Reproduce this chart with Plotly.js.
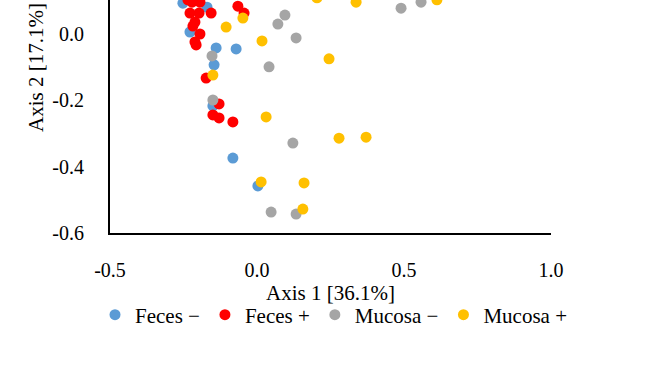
<!DOCTYPE html>
<html>
<head>
<meta charset="utf-8">
<script src="https://cdn.plot.ly/plotly-3.0.1.min.js"></script>
<style>html,body{margin:0;padding:0;background:#fff;}#chart{width:650px;height:366px;}</style>
</head>
<body>
<div id="chart"></div>
<script>
// Data (Axis 1, Axis 2 coordinates)
const fecesMinusX = [-0.252, -0.170, -0.228, -0.139, -0.071, -0.146, -0.150, -0.082, 0.003];
const fecesMinusY = [0.093, 0.081, 0.006, -0.042, -0.045, -0.093, -0.217, -0.374, -0.458];

const fecesPlusX = [-0.235, -0.221, -0.194, -0.228, -0.197, -0.156, -0.065, -0.044, -0.211, -0.218, -0.194, -0.211, -0.207, -0.173, -0.129, -0.150, -0.129, -0.082];
const fecesPlusY = [0.103, 0.096, 0.096, 0.063, 0.063, 0.063, 0.084, 0.063, 0.036, 0.024, 0.000, -0.024, -0.033, -0.133, -0.211, -0.244, -0.253, -0.265];

const mucosaMinusX = [-0.153, -0.150, 0.071, 0.095, 0.133, 0.041, 0.122, 0.048, 0.133, 0.490, 0.558];
const mucosaMinusY = [-0.066, -0.199, 0.030, 0.057, -0.012, -0.099, -0.329, -0.537, -0.543, 0.078, 0.096];

const mucosaPlusX = [-0.048, -0.105, 0.017, -0.150, 0.245, 0.031, 0.279, 0.371, 0.014, 0.160, 0.156, 0.337, 0.612, 0.204];
const mucosaPlusY = [0.048, 0.021, -0.021, -0.124, -0.075, -0.250, -0.314, -0.311, -0.446, -0.449, -0.528, 0.096, 0.103, 0.109];

const seriesNames = ["Feces \u2212", "Feces +", "Mucosa \u2212", "Mucosa +"];
const seriesColors = ["#5B9BD5", "#FF0000", "#A5A5A5", "#FFC000"];

const xTicks = [-0.5, 0.0, 0.5, 1.0];
const yTicks = [-0.6, -0.4, -0.2, 0.0];
const xTitle = "Axis 1 [36.1%]";
const yTitle = "Axis 2 [17.1%]";

const xs = [fecesMinusX, fecesPlusX, mucosaMinusX, mucosaPlusX];
const ys = [fecesMinusY, fecesPlusY, mucosaMinusY, mucosaPlusY];

const FONT = "Liberation Serif";

const traces = seriesNames.map((name, i) => ({
  type: "scatter",
  mode: "markers",
  name: name,
  x: xs[i],
  y: ys[i],
  marker: {color: seriesColors[i], size: 11, line: {width: 0}},
  cliponaxis: true
}));

const layout = {
  width: 650,
  height: 366,
  margin: {l: 110, r: 99, t: 0, b: 133, pad: 0},
  paper_bgcolor: "#ffffff",
  plot_bgcolor: "#ffffff",
  font: {family: FONT, size: 20, color: "#000000"},
  showlegend: true,
  legend: {
    orientation: "h",
    x: -0.034, xanchor: "left",
    y: -0.352, yanchor: "middle",
    font: {family: FONT, size: 21, color: "#000000"},
    itemwidth: 30,
    traceorder: "normal",
    bgcolor: "rgba(0,0,0,0)"
  },
  xaxis: {
    range: [-0.5, 1.0],
    tickvals: xTicks,
    ticktext: xTicks.map(v => v.toFixed(1)),
    showgrid: false,
    zeroline: false,
    showline: true,
    linecolor: "#000000",
    linewidth: 2,
    ticks: "outside",
    ticklen: 18,
    tickcolor: "rgba(0,0,0,0)",
    tickfont: {family: FONT, size: 20, color: "#000000"},
    title: {text: xTitle, font: {family: FONT, size: 21, color: "#000000"}, standoff: 4},
    fixedrange: true
  },
  yaxis: {
    range: [-0.6, 0.1025],
    tickvals: yTicks,
    ticktext: yTicks.map(v => v.toFixed(1)),
    showgrid: false,
    zeroline: false,
    showline: true,
    linecolor: "#000000",
    linewidth: 2,
    ticks: "outside",
    ticklen: 20,
    tickcolor: "rgba(0,0,0,0)",
    tickfont: {family: FONT, size: 20, color: "#000000"},
    fixedrange: true
  },
  annotations: [{
    text: yTitle,
    xref: "paper", yref: "paper",
    x: -0.168, y: 0.712,
    xanchor: "center", yanchor: "middle",
    textangle: -90,
    showarrow: false,
    font: {family: FONT, size: 21, color: "#000000"}
  }]
};

Plotly.newPlot("chart", traces, layout, {staticPlot: true, displayModeBar: false});
</script>
</body>
</html>
